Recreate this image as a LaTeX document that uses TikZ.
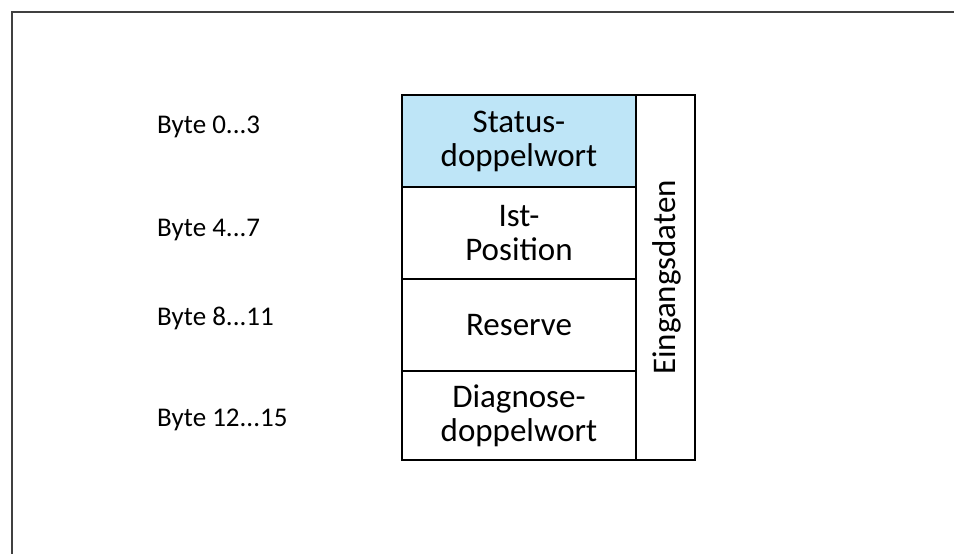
\documentclass[tikz,border=0pt]{standalone}
\usepackage{fontspec}
\setmainfont{Carlito}
\definecolor{statusblue}{RGB}{190,229,247}
\definecolor{framegray}{RGB}{64,64,64}
\begin{document}
\begin{tikzpicture}[x=1pt,y=-1pt,
  cell/.style={draw=black, line width=2pt, minimum width=234pt, inner sep=0pt, align=center,
    font=\fontsize{33}{34}\selectfont, anchor=north west},
  side/.style={draw=black, line width=2pt, minimum width=59pt, minimum height=365pt, inner sep=0pt, anchor=north west},
  lbl/.style={anchor=west, font=\fontsize{27}{30}\selectfont, inner sep=0pt}]
\useasboundingbox (0,0) rectangle (954,554);
\draw[line width=2pt, color=framegray] (12,560) -- (12,12) -- (960,12);
\node[cell, fill=statusblue, minimum height=92pt] (status) at (401,94) {Status-\\doppelwort};
\node[cell, minimum height=92pt] (ist) at (401,186) {Ist-\\Position};
\node[cell, minimum height=92pt] (reserve) at (401,278) {Reserve};
\node[cell, minimum height=89pt] (diag) at (401,370) {Diagnose-\\doppelwort};
\node[side] (ein) at (635,94) {};
\node[rotate=90, font=\fontsize{33}{34}\selectfont, inner sep=0pt] (eintext) at ([xshift=1pt]ein.center) {Eingangsdaten};
\node[lbl] (b0) at (157,127) {Byte 0...3};
\node[lbl] (b4) at (157,230) {Byte 4...7};
\node[lbl] (b8) at (157,318) {Byte 8...11};
\node[lbl] (b12) at (157,420) {Byte 12...15};
\end{tikzpicture}
\end{document}
